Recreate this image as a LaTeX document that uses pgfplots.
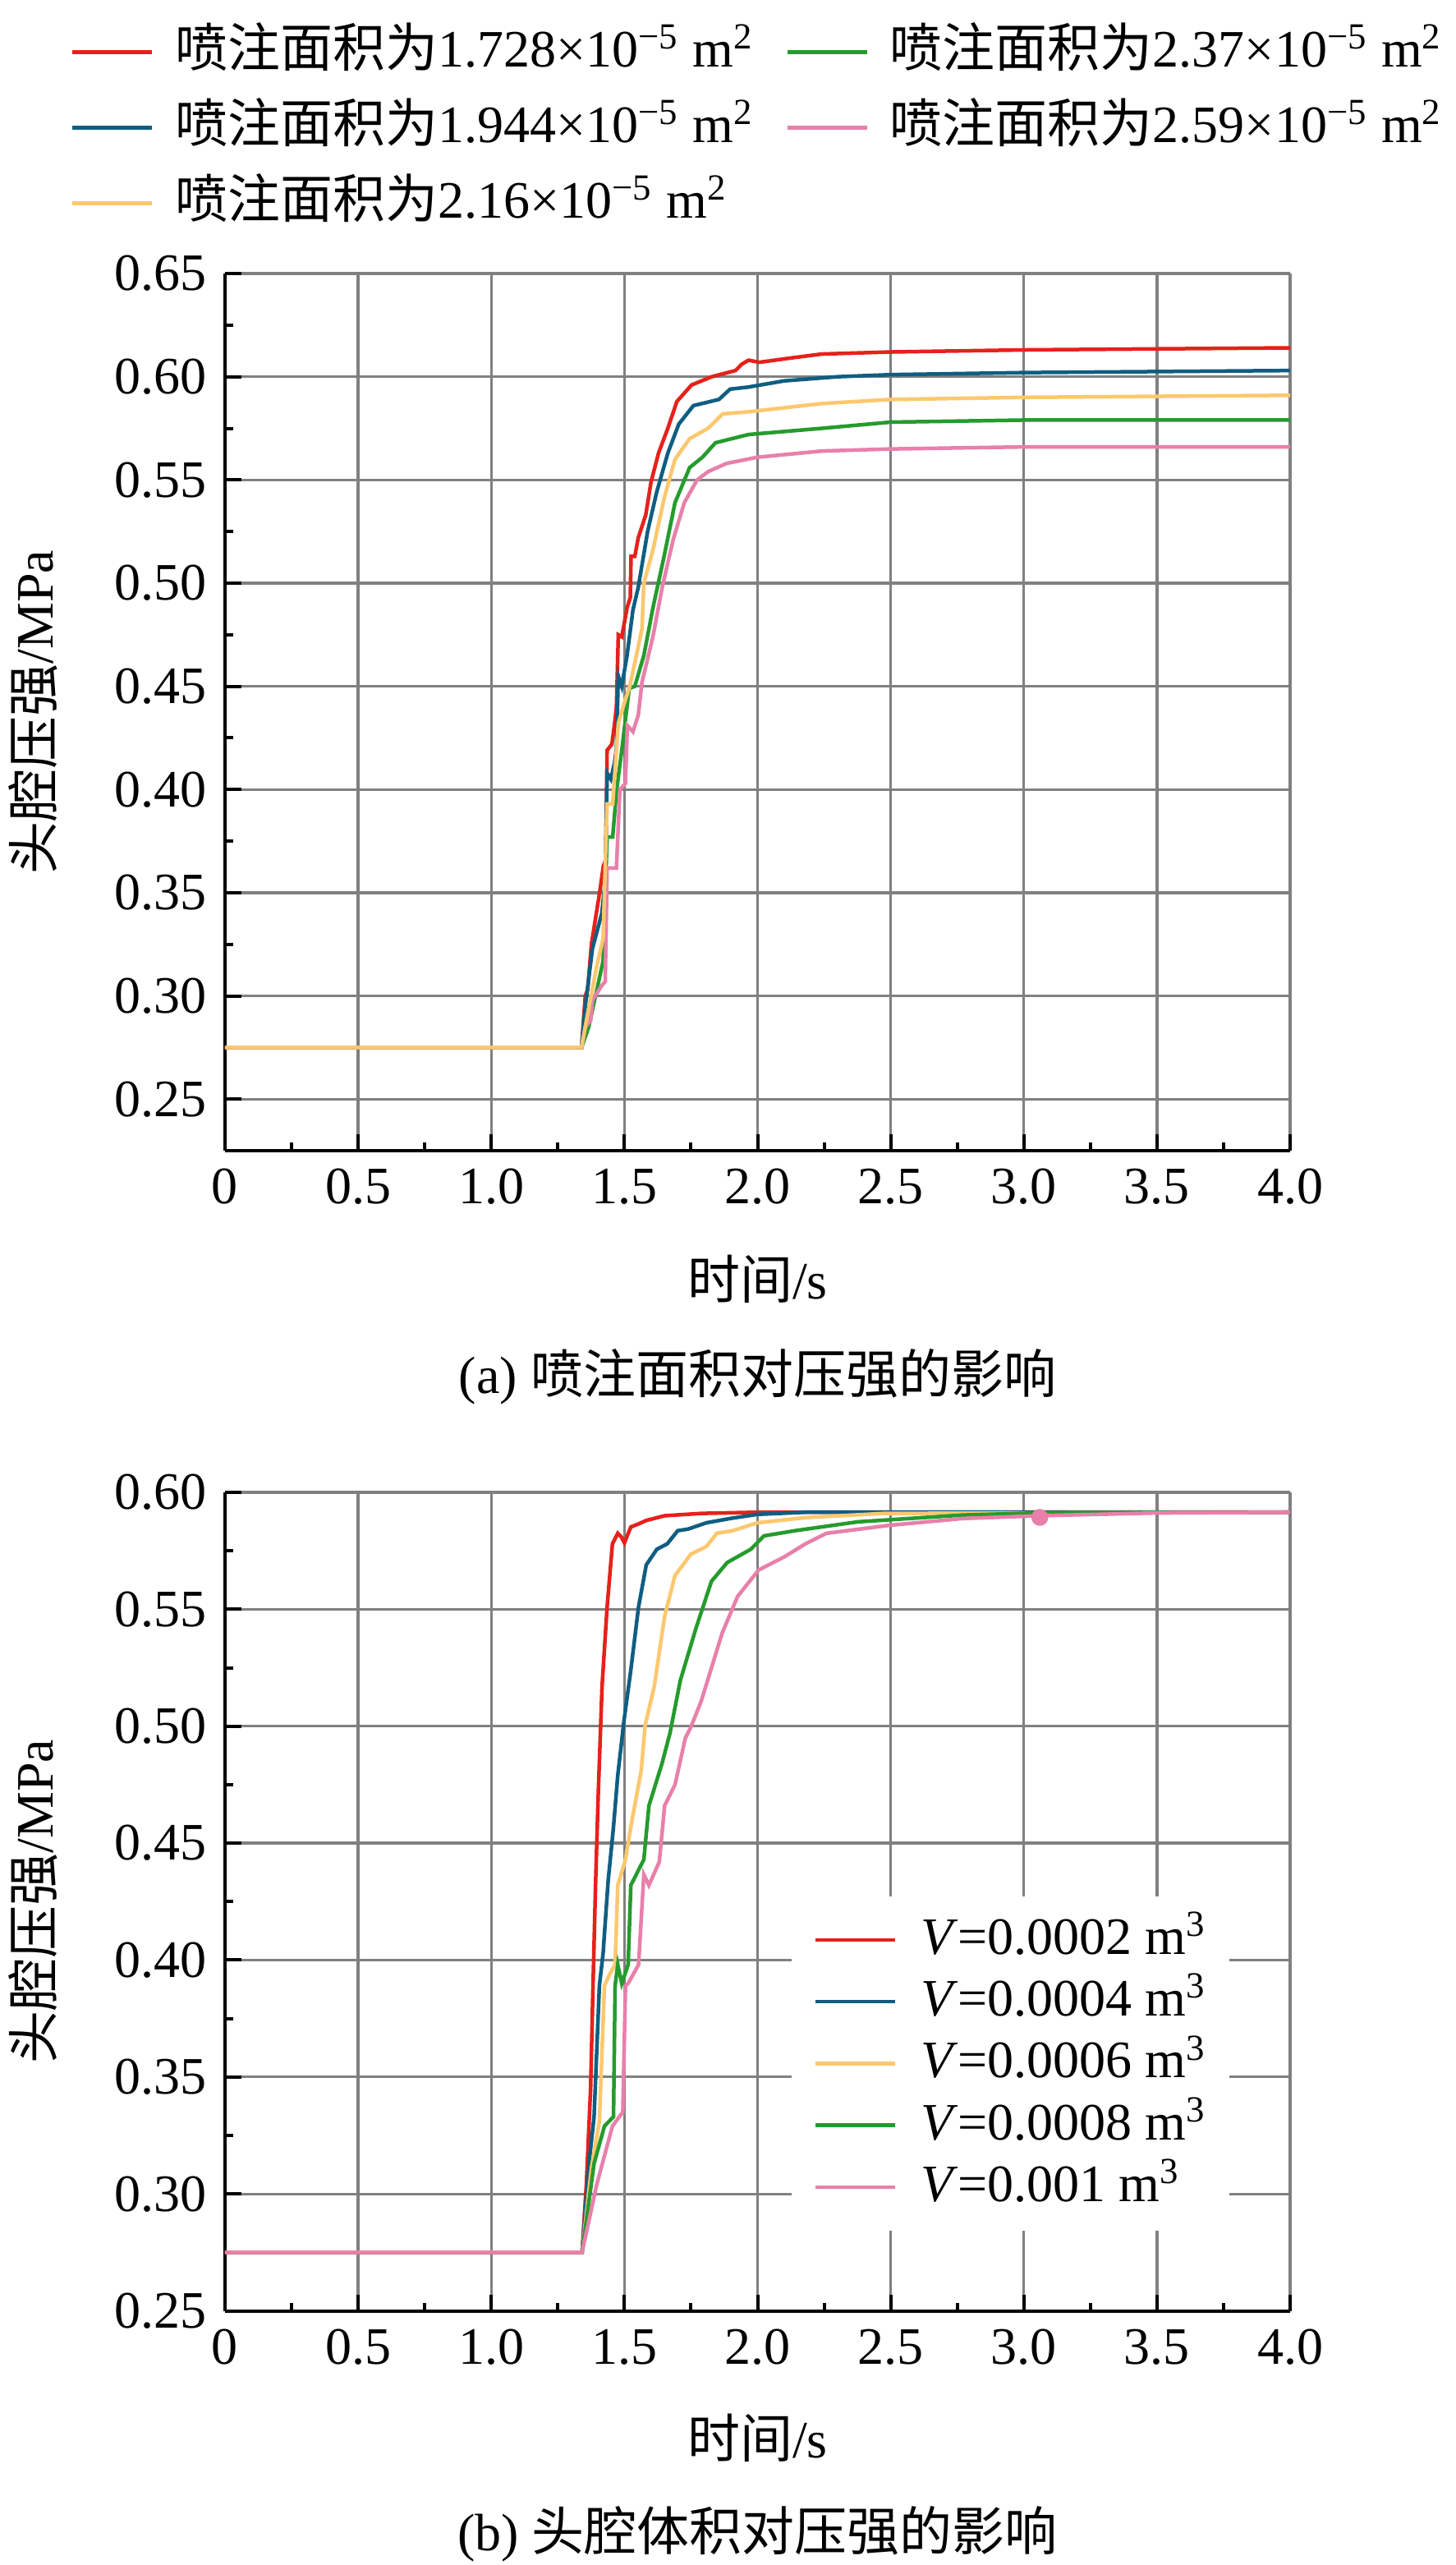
\documentclass[border=0pt]{standalone}
\usepackage{fontspec}
\setmainfont{Liberation Serif}
\newfontfamily\cjk{Noto Sans CJK SC}
\usepackage{pgfplots}
\pgfplotsset{compat=1.18}
\usepackage{pgfplotstable}

\definecolor{cred}{RGB}{230,33,27}
\definecolor{cblue}{RGB}{15,94,130}
\definecolor{cyel}{RGB}{252,200,110}
\definecolor{cgreen}{RGB}{37,155,45}
\definecolor{cpink}{RGB}{232,128,170}
\definecolor{cgrid}{RGB}{128,128,128}

\pgfplotstableread{
t p
0 0.275
1.339 0.275
1.353 0.300
1.362 0.303
1.376 0.325
1.408 0.351
1.421 0.363
1.430 0.366
1.435 0.419
1.453 0.422
1.463 0.432
1.470 0.440
1.477 0.475
1.490 0.474
1.510 0.488
1.522 0.493
1.525 0.513
1.539 0.513
1.552 0.522
1.580 0.533
1.600 0.549
1.628 0.563
1.663 0.575
1.697 0.588
1.752 0.596
1.828 0.600
1.917 0.603
1.940 0.606
1.966 0.608
2.007 0.607
2.120 0.609
2.241 0.611
2.500 0.612
3.000 0.613
4.000 0.614
}\tAred
\pgfplotstableread{
t p
0 0.275
1.339 0.275
1.353 0.295
1.380 0.323
1.415 0.340
1.428 0.356
1.435 0.408
1.449 0.405
1.463 0.413
1.470 0.420
1.477 0.455
1.490 0.450
1.510 0.465
1.532 0.487
1.552 0.498
1.587 0.525
1.621 0.544
1.663 0.563
1.704 0.577
1.759 0.586
1.855 0.589
1.897 0.594
1.966 0.595
2.100 0.598
2.300 0.600
2.500 0.601
3.000 0.602
4.000 0.603
}\tAblue
\pgfplotstableread{
t p
0 0.275
1.339 0.275
1.360 0.290
1.394 0.313
1.420 0.328
1.435 0.393
1.456 0.393
1.477 0.432
1.497 0.441
1.518 0.449
1.545 0.465
1.566 0.478
1.573 0.500
1.607 0.516
1.649 0.541
1.690 0.560
1.745 0.570
1.814 0.575
1.869 0.582
1.966 0.583
2.241 0.587
2.500 0.589
3.000 0.590
4.000 0.591
}\tAyel
\pgfplotstableread{
t p
0 0.275
1.339 0.275
1.366 0.285
1.400 0.305
1.420 0.317
1.435 0.377
1.456 0.377
1.470 0.399
1.490 0.419
1.518 0.449
1.539 0.450
1.573 0.465
1.607 0.488
1.649 0.513
1.690 0.539
1.745 0.556
1.793 0.561
1.842 0.568
1.966 0.572
2.241 0.575
2.500 0.578
3.000 0.579
4.000 0.579
}\tAgreen
\pgfplotstableread{
t p
0 0.275
1.339 0.275
1.353 0.285
1.373 0.288
1.380 0.298
1.415 0.305
1.428 0.307
1.435 0.362
1.470 0.362
1.483 0.400
1.504 0.403
1.511 0.431
1.532 0.428
1.552 0.436
1.566 0.452
1.607 0.474
1.642 0.498
1.683 0.521
1.725 0.539
1.773 0.550
1.814 0.554
1.883 0.558
2.000 0.561
2.241 0.564
2.500 0.565
3.000 0.566
4.000 0.566
}\tApink

\pgfplotstableread{
t p
0 0.275
1.341 0.275
1.357 0.304
1.373 0.345
1.382 0.389
1.392 0.434
1.402 0.472
1.416 0.517
1.435 0.551
1.455 0.578
1.475 0.5825
1.488 0.581
1.500 0.5784
1.524 0.5852
1.553 0.5865
1.582 0.588
1.651 0.590
1.788 0.591
2.000 0.5915
4.000 0.5915
}\tBred
\pgfplotstableread{
t p
0 0.275
1.341 0.275
1.367 0.313
1.386 0.333
1.406 0.389
1.420 0.403
1.439 0.434
1.459 0.457
1.475 0.479
1.498 0.502
1.524 0.524
1.553 0.551
1.582 0.569
1.622 0.5757
1.661 0.578
1.700 0.5836
1.739 0.5843
1.808 0.587
1.906 0.589
2.000 0.5906
2.180 0.5915
4.000 0.5915
}\tBblue
\pgfplotstableread{
t p
0 0.275
1.341 0.275
1.376 0.311
1.406 0.331
1.425 0.389
1.445 0.394
1.465 0.398
1.475 0.432
1.504 0.443
1.524 0.457
1.563 0.481
1.578 0.5005
1.612 0.517
1.651 0.547
1.690 0.5645
1.749 0.5735
1.808 0.5769
1.847 0.5825
1.906 0.5836
2.000 0.587
2.180 0.5892
2.475 0.591
4.000 0.5915
}\tByel
\pgfplotstableread{
t p
0 0.275
1.341 0.275
1.386 0.313
1.425 0.329
1.459 0.333
1.465 0.389
1.475 0.398
1.490 0.390
1.514 0.398
1.524 0.432
1.573 0.443
1.592 0.466
1.641 0.484
1.671 0.497
1.710 0.5196
1.769 0.542
1.827 0.562
1.886 0.570
1.975 0.5757
2.024 0.5814
2.140 0.5836
2.376 0.5874
2.769 0.5903
3.050 0.5912
4.000 0.5915
}\tBgreen
\pgfplotstableread{
t p
0 0.275
1.341 0.275
1.396 0.304
1.455 0.329
1.494 0.335
1.504 0.389
1.514 0.390
1.553 0.398
1.573 0.4365
1.592 0.432
1.631 0.442
1.651 0.466
1.690 0.475
1.729 0.495
1.749 0.4995
1.788 0.5106
1.867 0.5398
1.925 0.5555
2.004 0.5668
2.100 0.5724
2.180 0.578
2.259 0.5825
2.494 0.5859
2.769 0.5888
3.053 0.5900
3.500 0.5912
4.000 0.5915
}\tBpink

\pgfplotsset{
  panel/.style={
    scale only axis,
    width=259.4pt,
    xmin=0, xmax=4,
    xtick={0,0.5,1,1.5,2,2.5,3,3.5,4},
    xticklabels={0,0.5,1.0,1.5,2.0,2.5,3.0,3.5,4.0},
    minor x tick num=1,
    minor y tick num=1,
    axis x line*=bottom,
    axis y line*=left,
    axis line style={-, black, line width=0.8pt},
    tick align=inside,
    major tick length=4pt,
    minor tick length=2pt,
    every tick/.style={black, line width=0.8pt},
    grid=major,
    major grid style={cgrid, line width=0.65pt},
    /pgf/number format/assume math mode=true,
    yticklabel style={/pgf/number format/fixed, /pgf/number format/fixed zerofill, /pgf/number format/precision=2},
    tick label style={font=\fontsize{12.8}{15.4}\selectfont},
    label style={font=\fontsize{12.8}{15.4}\selectfont},
    xlabel={{\cjk 时间}/s},
    ylabel={{\cjk 头腔压强}/MPa},
    every axis y label/.append style={at={(axis description cs:-0.1804,0.5)}, anchor=center},
    clip=false,
    every axis plot/.append style={line width=0.9pt},
    legend image code/.code={\draw[#1] (0pt,0pt) -- (19.4pt,0pt);},
  }
}

\begin{document}
\fontsize{12.8}{15.4}\selectfont
\begin{tikzpicture}
\useasboundingbox (0,0) rectangle (354.4pt,-624.6pt);

\begin{axis}[panel,
  at={(54.8pt,-280.2pt)}, anchor=south west,
  height=213.6pt,
  ymin=0.225, ymax=0.65,
  ytick={0.25,0.30,0.35,0.40,0.45,0.50,0.55,0.60,0.65},
  every axis x label/.append style={at={(axis description cs:0.5,-0.146)}, anchor=center},
  legend columns=2,
  legend cell align=left,
  legend style={draw=none, fill=none, inner sep=0pt, anchor=north west,
    at={(axis description cs:-0.1457,1.2837)},
    font=\fontsize{12.8}{15.4}\selectfont,
    nodes={inner sep=0pt, text height=10pt, text depth=3pt},
    row sep=5.4pt,
    /tikz/every odd column/.append style={column sep=5.2pt},
    /tikz/every even column/.append style={column sep=7.6pt}},
]
\addplot[cred] table {\tAred};
\addlegendentry{{\cjk 喷注面积为}1.728×10\textsuperscript{−5} m\textsuperscript{2}}
\addplot[cgreen] table {\tAgreen};
\addlegendentry{{\cjk 喷注面积为}2.37×10\textsuperscript{−5} m\textsuperscript{2}}
\addplot[cblue] table {\tAblue};
\addlegendentry{{\cjk 喷注面积为}1.944×10\textsuperscript{−5} m\textsuperscript{2}}
\addplot[cpink] table {\tApink};
\addlegendentry{{\cjk 喷注面积为}2.59×10\textsuperscript{−5} m\textsuperscript{2}}
\addplot[cyel] table {\tAyel};
\addlegendentry{{\cjk 喷注面积为}2.16×10\textsuperscript{−5} m\textsuperscript{2}}
\node[anchor=center, font=\fontsize{12.8}{15.4}\selectfont] at (axis description cs:0.5,-0.2575) {(a) {\cjk 喷注面积对压强的影响}};
\end{axis}

\begin{axis}[panel,
  at={(54.8pt,-562.7pt)}, anchor=south west,
  height=199.3pt,
  ymin=0.25, ymax=0.60,
  ytick={0.25,0.30,0.35,0.40,0.45,0.50,0.55,0.60},
  every axis x label/.append style={at={(axis description cs:0.5,-0.155)}, anchor=center},
  legend cell align=left,
  legend style={draw=none, fill=white, inner xsep=5.4pt, inner ysep=4pt, anchor=north west,
    at={(axis description cs:0.5312,0.507)},
    font=\fontsize{12.8}{15.4}\selectfont,
    nodes={inner sep=0pt, text height=10pt, text depth=3pt},
    row sep=2.06pt,
    /tikz/every odd column/.append style={column sep=5.8pt}},
]
\addplot[cred] table {\tBred};
\addlegendentry{\textit{V}=0.0002 m\textsuperscript{3}}
\addplot[cblue] table {\tBblue};
\addlegendentry{\textit{V}=0.0004 m\textsuperscript{3}}
\addplot[cyel] table {\tByel};
\addlegendentry{\textit{V}=0.0006 m\textsuperscript{3}}
\addplot[cgreen] table {\tBgreen};
\addlegendentry{\textit{V}=0.0008 m\textsuperscript{3}}
\addplot[cpink] table {\tBpink};
\addlegendentry{\textit{V}=0.001 m\textsuperscript{3}}
\addplot[cpink, only marks, mark=*, mark size=1.6pt, forget plot] coordinates {(3.06,0.5893)};
\node[anchor=center, font=\fontsize{12.8}{15.4}\selectfont] at (axis description cs:0.5,-0.2725) {(b) {\cjk 头腔体积对压强的影响}};
\end{axis}
\end{tikzpicture}
\end{document}
